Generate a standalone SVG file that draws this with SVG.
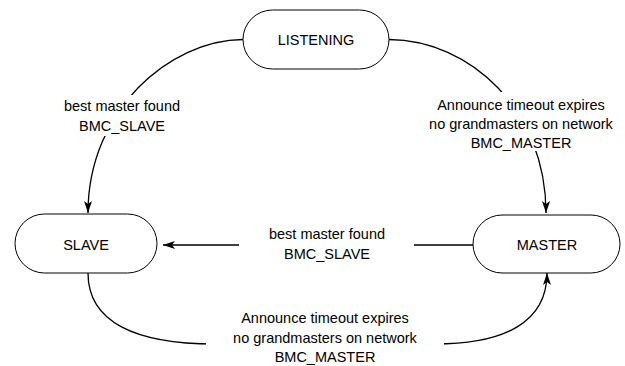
<svg xmlns="http://www.w3.org/2000/svg" width="625" height="366" viewBox="0 0 625 366">
  <style>
    .node { fill: #ffffff; stroke: #000000; stroke-width: 1; }
    .edge { fill: none; stroke: #000000; stroke-width: 1.3; }
    .bg { fill: #ffffff; stroke: none; }
    text { font-family: "Liberation Sans", Arial, sans-serif; font-size: 14.5px; fill: #000000; text-anchor: middle; }
  </style>
  <defs>
    <marker id="arrow" viewBox="0 0 12 8" refX="12" refY="4" markerWidth="12" markerHeight="8" markerUnits="userSpaceOnUse" orient="auto">
      <path d="M0,0 L12,4 L0,8 L3,4 z" fill="#000000"/>
    </marker>
  </defs>
  <rect width="625" height="366" fill="#ffffff"/>

  <g id="connectors">
    <path class="edge" d="M243,39.5 C170,40 88,110 88,213" marker-end="url(#arrow)"/>
    <path class="edge" d="M389,39.5 C470,40 546,110 546,213" marker-end="url(#arrow)"/>
    <path class="edge" d="M473,245 L163,245" marker-end="url(#arrow)"/>
    <path class="edge" d="M88,273 C88,322 135,344 215,344 L435,344 C505,344 547,322 547,273" marker-end="url(#arrow)"/>
  </g>

  <g id="labels">
    <rect class="bg" x="60" y="95" width="125" height="41"/>
    <text x="122" y="111">best master found</text>
    <text x="122" y="131">BMC_SLAVE</text>

    <rect class="bg" x="428" y="92" width="186" height="59"/>
    <text x="521" y="110">Announce timeout expires</text>
    <text x="521" y="129">no grandmasters on network</text>
    <text x="521" y="148">BMC_MASTER</text>

    <rect class="bg" x="239" y="226" width="175" height="38"/>
    <text x="327" y="239">best master found</text>
    <text x="327" y="259">BMC_SLAVE</text>

    <rect class="bg" x="206" y="308" width="238" height="58"/>
    <text x="325" y="323">Announce timeout expires</text>
    <text x="325" y="343">no grandmasters on network</text>
    <text x="325" y="362">BMC_MASTER</text>
  </g>

  <g id="node-listening">
    <rect class="node" x="243" y="10" width="146" height="59" rx="29.5" ry="29.5"/>
    <text x="316" y="45">LISTENING</text>
  </g>
  <g id="node-slave">
    <rect class="node" x="15" y="214" width="142" height="59" rx="29.5" ry="29.5"/>
    <text x="86" y="250">SLAVE</text>
  </g>
  <g id="node-master">
    <rect class="node" x="473" y="215" width="147" height="58" rx="29" ry="29"/>
    <text x="547" y="250">MASTER</text>
  </g>
</svg>
